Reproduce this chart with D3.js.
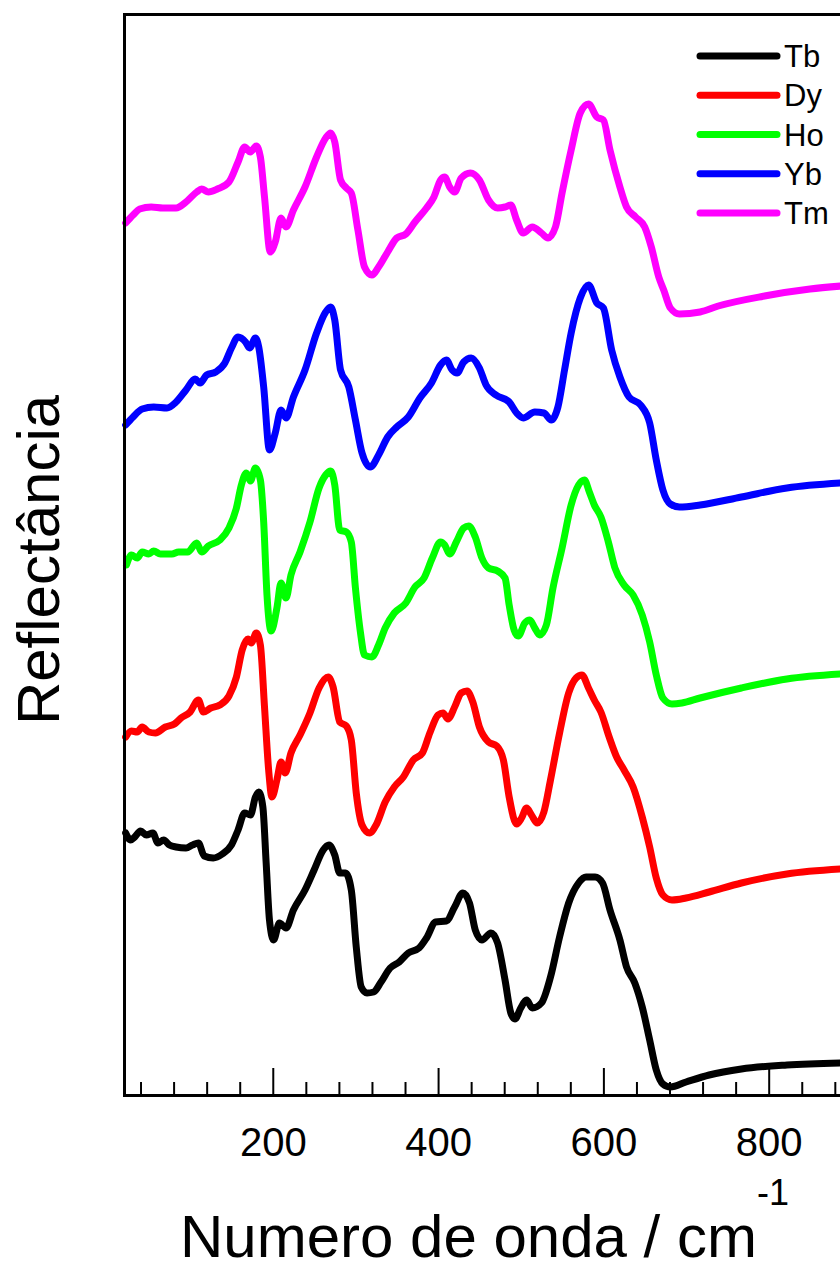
<!DOCTYPE html>
<html>
<head>
<meta charset="utf-8">
<script src="https://d3js.org/d3.v7.min.js"></script>
<style>
body { margin: 0; background: #fff; }
svg { display: block; }
</style>
</head>
<body>
<svg width="840" height="1272"></svg>

<script>

// spectra: [wavenumber, reflectance (stacked, arb. units)]
var tb = [
[22,2.62],[28,2.55],[33,2.58],[40,2.64],[47,2.60],[55,2.62],[61,2.52],[68,2.55],[75,2.50],[83,2.48],
[95,2.47],[103,2.50],[110,2.52],[117,2.39],[128,2.37],[139,2.41],[150,2.50],[158,2.65],[166,2.82],[173,2.80],
[179,2.98],[183,3.03],[188,2.88],[192,2.32],[196,1.75],[201,1.55],[208,1.72],[216,1.67],[225,1.85],[239,2.05],
[250,2.25],[261,2.45],[268,2.50],[275,2.40],[281,2.22],[288,2.22],[295,2.05],[301,1.48],[307,1.08],[314,1.02],
[322,1.03],[331,1.13],[342,1.27],[353,1.33],[364,1.42],[377,1.47],[386,1.57],[397,1.73],[410,1.74],[420,1.88],
[430,2.02],[438,1.92],[445,1.65],[453,1.55],[464,1.62],[472,1.52],[481,1.15],[488,0.82],[493,0.76],[500,0.87],
[507,0.95],[514,0.87],[525,0.92],[536,1.18],[547,1.58],[558,1.92],[570,2.12],[579,2.18],[590,2.18],[599,2.12],
[608,1.85],[620,1.55],[628,1.28],[638,1.12],[647,0.88],[656,0.55],[664,0.25],[672,0.11],[681,0.08],[700,0.13],
[728,0.20],[767,0.26],[822,0.30],[888,0.32]
];

var dy = [
[22,3.58],[29,3.64],[36,3.63],[42,3.68],[50,3.63],[58,3.62],[70,3.68],[81,3.71],[89,3.77],[100,3.83],
[110,3.95],[116,3.83],[125,3.87],[136,3.90],[147,3.99],[156,4.18],[163,4.45],[170,4.56],[174,4.52],[180,4.62],
[185,4.50],[190,3.88],[195,3.25],[199,2.98],[205,3.15],[210,3.33],[215,3.22],[222,3.42],[233,3.60],[245,3.82],
[256,4.07],[267,4.18],[273,4.08],[281,3.73],[289,3.69],[295,3.55],[301,3.02],[308,2.70],[317,2.62],[325,2.70],
[336,2.93],[347,3.08],[358,3.18],[370,3.35],[381,3.42],[390,3.62],[400,3.80],[406,3.82],[412,3.76],[420,3.88],
[428,4.02],[435,4.04],[442,3.93],[450,3.68],[461,3.53],[471,3.49],[479,3.35],[486,2.98],[495,2.71],[501,2.77],
[507,2.87],[513,2.80],[520,2.72],[528,2.83],[536,3.15],[547,3.62],[558,4.02],[567,4.17],[574,4.20],[582,4.07],
[589,3.95],[597,3.83],[607,3.58],[616,3.38],[625,3.25],[636,3.08],[647,2.78],[656,2.48],[664,2.17],[672,2.00],
[683,1.95],[700,1.97],[728,2.03],[767,2.12],[822,2.21],[888,2.26]
];

var ho = [
[23,5.30],[29,5.40],[36,5.37],[42,5.43],[50,5.41],[56,5.44],[64,5.41],[78,5.41],[86,5.43],[97,5.43],
[108,5.52],[114,5.43],[122,5.49],[136,5.55],[147,5.67],[156,5.87],[162,6.10],[168,6.22],[173,6.14],[179,6.27],
[185,6.15],[189,5.73],[193,5.00],[198,4.64],[205,4.87],[210,5.12],[216,4.97],[222,5.20],[233,5.43],[245,5.73],
[256,6.07],[264,6.20],[270,6.24],[275,6.10],[281,5.65],[289,5.63],[295,5.53],[300,5.07],[306,4.63],[311,4.40],
[320,4.38],[328,4.50],[336,4.67],[347,4.82],[361,4.92],[372,5.08],[383,5.17],[393,5.37],[403,5.53],[408,5.50],
[414,5.41],[422,5.53],[431,5.67],[437,5.69],[445,5.58],[453,5.37],[461,5.27],[472,5.24],[481,5.17],[486,4.90],
[492,4.65],[497,4.59],[505,4.72],[511,4.75],[517,4.67],[523,4.60],[531,4.70],[539,5.07],[550,5.47],[561,5.90],
[570,6.10],[577,6.15],[583,6.03],[589,5.90],[597,5.78],[606,5.53],[614,5.27],[625,5.10],[636,5.00],[647,4.80],
[656,4.53],[664,4.20],[672,3.97],[683,3.91],[695,3.92],[717,3.97],[767,4.07],[822,4.16],[888,4.21]
];

var yb = [
[22,6.70],[31,6.78],[42,6.86],[56,6.88],[72,6.87],[83,6.93],[95,7.05],[106,7.16],[112,7.12],[120,7.20],
[131,7.23],[142,7.32],[150,7.47],[158,7.58],[167,7.53],[172,7.47],[179,7.57],[183,7.48],[189,7.08],[196,6.45],
[203,6.62],[210,6.85],[216,6.77],[225,6.98],[239,7.25],[253,7.62],[264,7.83],[270,7.88],[275,7.75],[282,7.25],
[292,7.08],[300,6.75],[308,6.42],[318,6.28],[328,6.40],[339,6.58],[350,6.68],[364,6.78],[378,6.97],[392,7.12],
[403,7.30],[410,7.35],[417,7.25],[423,7.22],[431,7.33],[440,7.37],[450,7.27],[458,7.10],[470,7.00],[486,6.93],
[495,6.82],[503,6.77],[517,6.83],[528,6.82],[537,6.75],[545,6.88],[553,7.25],[561,7.62],[572,7.97],[582,8.10],
[592,7.92],[600,7.87],[610,7.45],[620,7.18],[631,6.98],[645,6.90],[656,6.72],[664,6.35],[672,6.05],[681,5.91],
[692,5.88],[717,5.90],[767,5.98],[822,6.07],[888,6.12]
];

var tm = [
[22,8.72],[31,8.80],[39,8.86],[53,8.88],[67,8.87],[83,8.87],[95,8.93],[108,9.03],[114,9.06],[122,9.03],
[133,9.06],[147,9.13],[158,9.33],[166,9.48],[173,9.43],[180,9.49],[185,9.38],[190,8.98],[197,8.43],[203,8.53],
[210,8.77],[216,8.68],[225,8.85],[239,9.08],[253,9.38],[264,9.57],[270,9.62],[275,9.53],[282,9.15],[289,9.07],
[295,9.02],[303,8.65],[311,8.28],[320,8.20],[328,8.28],[339,8.43],[350,8.57],[361,8.61],[372,8.73],[386,8.87],
[395,8.98],[403,9.15],[408,9.18],[414,9.08],[420,9.03],[428,9.17],[439,9.22],[450,9.15],[461,8.95],[472,8.87],
[481,8.88],[488,8.90],[495,8.75],[503,8.62],[514,8.68],[525,8.62],[533,8.57],[542,8.68],[550,9.02],[561,9.45],
[572,9.82],[582,9.91],[592,9.78],[600,9.75],[608,9.45],[620,9.08],[628,8.88],[639,8.78],[650,8.68],[658,8.48],
[667,8.18],[673,8.05],[681,7.87],[692,7.81],[717,7.83],[739,7.89],[795,7.99],[850,8.06],[888,8.09]
];

var legend_keys = ["Tb", "Dy", "Ho", "Yb", "Tm"];
var colors = ["#000000", "#FF0000", "#00FF00", "#0000FF", "#FF00FF"];

var majorTicks = [200, 400, 600, 800];
var minorTicks = [40, 80, 120, 160, 240, 280, 320, 360, 440, 480, 520, 560, 640, 680, 720, 760, 840, 880];

var font = "Arial, 'Liberation Sans', sans-serif";

var svg = d3.select("svg");

// plot box runs past the right edge of the picture (figure is cropped there)
var xScale = d3.scaleLinear().domain([20, 1000]).range([124, 934]);
var yScale = d3.scaleLinear().domain([0, 10.81]).range([1095, 14]);

var line = d3.line()
    .x(function(d) { return xScale(d[0]); })
    .y(function(d) { return yScale(d[1]); })
    .curve(d3.curveMonotoneX);

// curves
[tb, dy, ho, yb, tm].forEach(function(data, i) {
    svg.append("path")
        .datum(data)
        .attr("d", line)
        .style("fill", "none")
        .style("stroke", colors[i])
        .style("stroke-width", 7)
        .style("stroke-linejoin", "round")
        .style("stroke-linecap", "round");
});

// bottom axis, ticks pointing inwards
var xAxis = svg.append("g")
    .attr("transform", "translate(0,1095)")
    .call(d3.axisBottom(xScale).tickValues(majorTicks).tickSize(-27).tickSizeOuter(0)
        .tickPadding(33).tickFormat(d3.format("d")));
xAxis.select(".domain").attr("stroke-width", 3).attr("stroke-linecap", "square");
xAxis.selectAll(".tick line").attr("stroke-width", 2);
xAxis.selectAll(".tick text")
    .attr("fill", "#000")
    .style("font-family", font)
    .style("font-size", "40px");

var xMinor = svg.append("g")
    .attr("transform", "translate(0,1095)")
    .call(d3.axisBottom(xScale).tickValues(minorTicks).tickSize(-13).tickSizeOuter(0).tickFormat(""));
xMinor.select(".domain").remove();
xMinor.selectAll(".tick line").attr("stroke-width", 2);

// left and top frame lines
var yAxis = svg.append("g")
    .attr("transform", "translate(124,0)")
    .call(d3.axisLeft(yScale).tickValues([]).tickSizeOuter(0));
yAxis.select(".domain").attr("stroke-width", 3).attr("stroke-linecap", "square");

var topAxis = svg.append("g")
    .attr("transform", "translate(0,14)")
    .call(d3.axisTop(xScale).tickValues([]).tickSizeOuter(0));
topAxis.select(".domain").attr("stroke-width", 3).attr("stroke-linecap", "square");

// X label
var xLabel = svg.append("text")
    .attr("x", 180)
    .attr("y", 1257)
    .style("font-family", font)
    .style("font-size", "60px")
    .text("Numero de onda / cm");
xLabel.append("tspan")
    .attr("dy", -52)
    .style("font-size", "36px")
    .text("-1");

// Y label
svg.append("text")
    .attr("text-anchor", "middle")
    .attr("transform", "translate(59,560)rotate(-90)")
    .style("font-family", font)
    .style("font-size", "60px")
    .text("Reflectância");

// Legend
var legendY = d3.scalePoint().domain(legend_keys).range([56, 213]);

var lineLegend = svg.selectAll(".lineLegend").data(legend_keys)
    .enter().append("g")
    .attr("class", "lineLegend")
    .attr("transform", function(d) { return "translate(700," + legendY(d) + ")"; });

lineLegend.append("line")
    .attr("x1", 0).attr("x2", 77)
    .style("stroke", function(d, i) { return colors[i]; })
    .style("stroke-width", 7)
    .style("stroke-linecap", "round");

lineLegend.append("text")
    .attr("x", 84)
    .attr("y", 11)
    .style("font-family", font)
    .style("font-size", "31px")
    .text(function(d) { return d; });

</script>
</body>
</html>
